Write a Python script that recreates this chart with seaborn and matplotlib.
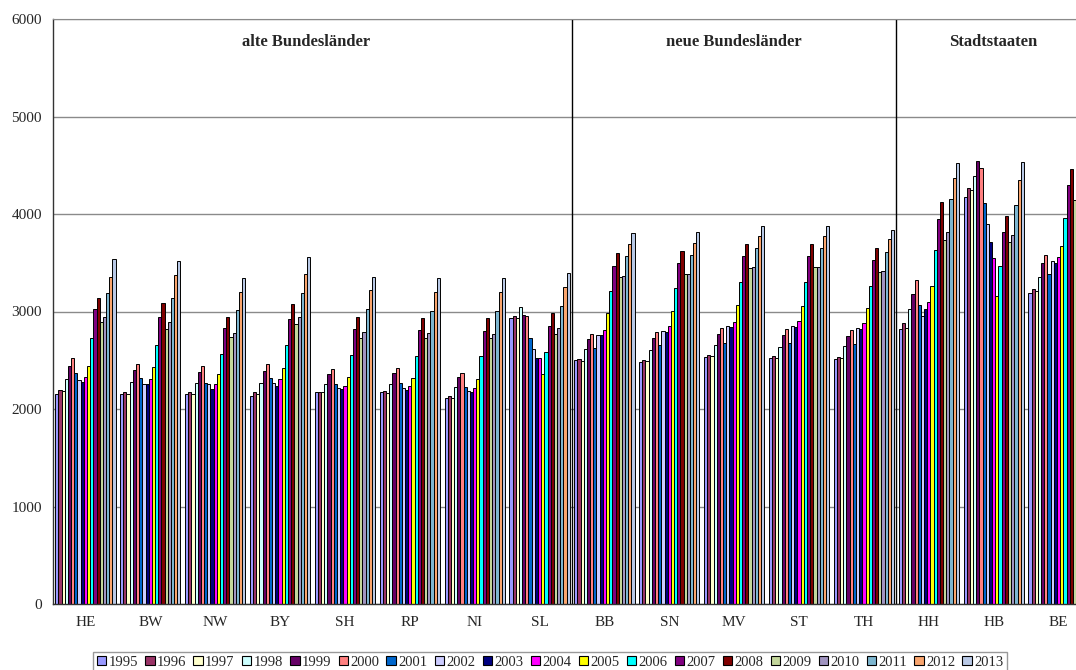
# Bundeslaender 1995-2013, gruppierte Balken
import matplotlib
matplotlib.use('Agg')
from matplotlib import pyplot as plt
from matplotlib.patches import Patch
import seaborn as sns
import pandas as pd
import numpy as np

# data
states = ['HE', 'BW', 'NW', 'BY', 'SH', 'RP', 'NI', 'SL',
          'BB', 'SN', 'MV', 'ST', 'TH', 'HH', 'HB', 'BE']
years = ['1995', '1996', '1997', '1998', '1999', '2000', '2001', '2002', '2003', '2004',
         '2005', '2006', '2007', '2008', '2009', '2010', '2011', '2012', '2013']

he = [2153, 2197, 2184, 2303, 2446, 2527, 2371, 2296, 2279, 2330, 2442, 2728, 3027, 3139, 2888, 2946, 3190, 3350, 3537]
bw = [2150, 2170, 2153, 2279, 2398, 2466, 2320, 2255, 2255, 2310, 2432, 2660, 2942, 3085, 2823, 2895, 3139, 3378, 3514]
nw = [2150, 2177, 2150, 2269, 2384, 2439, 2262, 2255, 2201, 2255, 2357, 2561, 2830, 2946, 2738, 2776, 3014, 3204, 3340]
by = [2136, 2170, 2153, 2269, 2388, 2459, 2313, 2262, 2241, 2303, 2425, 2653, 2925, 3082, 2874, 2946, 3190, 3388, 3558]
sh = [2177, 2177, 2170, 2259, 2354, 2412, 2259, 2218, 2201, 2238, 2327, 2558, 2820, 2946, 2731, 2793, 3024, 3221, 3357]
rp = [2170, 2184, 2163, 2259, 2371, 2422, 2262, 2211, 2190, 2241, 2320, 2541, 2806, 2932, 2724, 2776, 3010, 3204, 3347]
ni = [2116, 2136, 2116, 2224, 2330, 2374, 2228, 2187, 2173, 2211, 2303, 2541, 2803, 2929, 2724, 2772, 3003, 3197, 3347]
sl = [2935, 2949, 2935, 3044, 2969, 2949, 2731, 2619, 2527, 2527, 2364, 2582, 2847, 2986, 2772, 2827, 3058, 3248, 3391]
bb = [2500, 2517, 2497, 2612, 2714, 2769, 2626, 2762, 2755, 2806, 2983, 3214, 3469, 3599, 3350, 3364, 3565, 3690, 3803]
sn = [2486, 2507, 2497, 2605, 2728, 2789, 2653, 2799, 2793, 2847, 3007, 3241, 3497, 3622, 3384, 3381, 3582, 3707, 3813]
mv = [2534, 2554, 2544, 2653, 2769, 2827, 2680, 2847, 2844, 2891, 3071, 3299, 3565, 3694, 3446, 3452, 3656, 3776, 3881]
st = [2520, 2541, 2524, 2639, 2759, 2816, 2677, 2847, 2840, 2898, 3061, 3299, 3565, 3694, 3452, 3452, 3656, 3776, 3881]
th = [2510, 2537, 2520, 2643, 2752, 2810, 2667, 2830, 2823, 2878, 3034, 3265, 3527, 3650, 3408, 3418, 3609, 3741, 3840]
hh = [2825, 2877, 2832, 3021, 3178, 3322, 3065, 2955, 3021, 3099, 3260, 3627, 3945, 4123, 3729, 3812, 4151, 4370, 4527]
hb = [4171, 4267, 4247, 4390, 4545, 4473, 4116, 3901, 3712, 3545, 3161, 3462, 3818, 3979, 3712, 3784, 4089, 4346, 4538]
be = [3185, 3226, 3209, 3349, 3500, 3579, 3384, 3517, 3500, 3562, 3668, 3955, 4301, 4462, 4140, 4171, 4350, 4550, 4650]

values = [he, bw, nw, by, sh, rp, ni, sl, bb, sn, mv, st, th, hh, hb, be]

colors = ['#9999FF', '#993366', '#FFFFCC', '#CCFFFF', '#660066', '#FF8080', '#0066CC',
          '#CCCCFF', '#000080', '#FF00FF', '#FFFF00', '#00FFFF', '#800080', '#800000',
          '#C3D69B', '#A094C0', '#7DB6D0', '#F9A56E', '#B9C9E6']

groups = ['alte Bundesländer', 'neue Bundesländer', 'Stadtstaaten']

# long table for seaborn
rows = []
for land, vals in zip(states, values):
    for yr, v in zip(years, vals):
        rows.append({'Land': land, 'Jahr': yr, 'Wert': v})
df = pd.DataFrame(rows)

sns.set_style('white')
plt.rcParams['font.family'] = ['Liberation Serif', 'DejaVu Serif']

fig = plt.figure(figsize=(10.76, 6.7), dpi=100)
ax = fig.add_axes([53 / 1076, 66 / 670, 1038 / 1076, 585 / 670])

sns.barplot(data=df, x='Land', y='Wert', hue='Jahr', order=states, hue_order=years,
            palette=colors, saturation=1, width=0.93, gap=0,
            edgecolor='black', linewidth=0.7, ax=ax)
ax.get_legend().remove()

ax.set_xlim(-0.5, 15.5)
ax.set_ylim(0, 6000)
ax.set_yticks(range(0, 6001, 1000))
ax.grid(axis='y', color='#8a8a8a', linewidth=1)
ax.set_axisbelow(True)
ax.set_xlabel('')
ax.set_ylabel('')

# x ticks between the groups, labels centred
ax.set_xticks(range(len(states)))
ax.set_xticklabels(states)
ax.set_xticks(np.arange(-0.5, len(states), 1), minor=True)
ax.tick_params(axis='x', which='major', length=0, pad=9, labelsize=11)
ax.tick_params(axis='x', which='minor', length=5, width=1, direction='out', color='#555555')
ax.tick_params(axis='y', length=5, width=1, direction='out', labelsize=11, pad=3, color='#555555')

for side in ['left', 'bottom']:
    ax.spines[side].set_color('#333333')
    ax.spines[side].set_linewidth(1)
ax.spines['top'].set_color('#8a8a8a')
ax.spines['right'].set_visible(False)

# group boxes
ax.axvline(7.5, color='black', linewidth=1)
ax.axvline(12.5, color='black', linewidth=1)
ax.text(3.4, 5760, groups[0], ha='center', va='center', fontsize=12, fontweight='bold')
ax.text(10.0, 5760, groups[1], ha='center', va='center', fontsize=12, fontweight='bold')
ax.text(14.0, 5760, groups[2], ha='center', va='center', fontsize=12, fontweight='bold')

handles = [Patch(facecolor=c, edgecolor='black', linewidth=0.8) for c in colors]
fig.legend(handles, years, loc='upper center', bbox_to_anchor=(550 / 1076, 1 - 652 / 670),
           ncol=19, fontsize=10.5, handlelength=0.65, handleheight=0.65, handletextpad=0.15,
           columnspacing=0.5, frameon=True, fancybox=False, edgecolor='#808080',
           borderpad=0.25, borderaxespad=0)

fig.savefig('out.png', dpi=100)
